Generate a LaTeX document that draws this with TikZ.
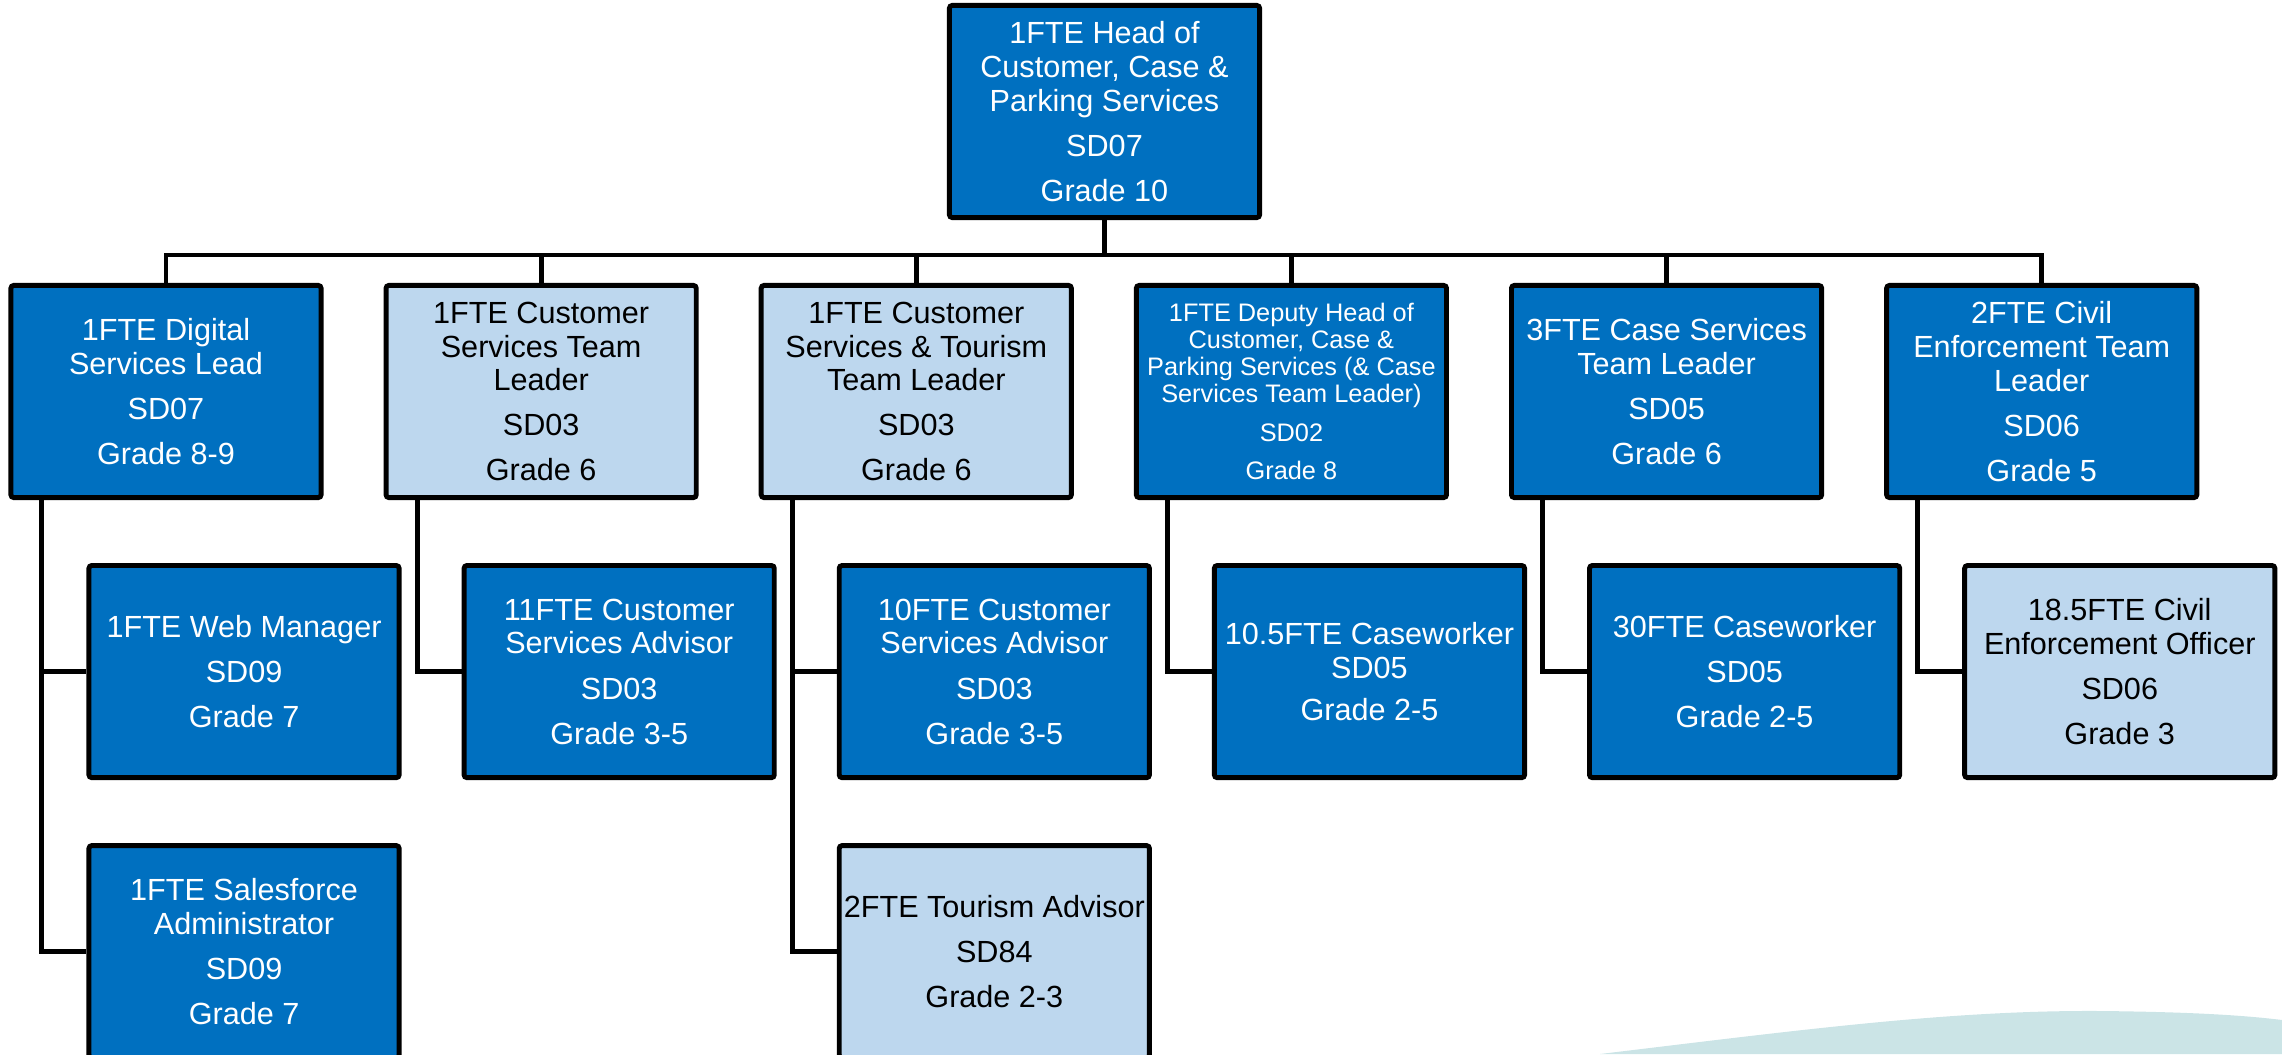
\documentclass[tikz,border=0pt]{standalone}
\usepackage{fontspec}
\setmainfont{Liberation Sans}
\usepackage{xcolor}
\usepackage{tikz}
\usetikzlibrary{positioning}

\definecolor{roledark}{HTML}{0070C0}
\definecolor{rolelight}{HTML}{BDD7EE}
\definecolor{swoosh}{HTML}{CBE4E6}

\tikzset{
  role/.style={draw=black, line width=1.4pt, rounded corners=0.8pt, rectangle,
    minimum width=3.10cm, minimum height=2.12cm, inner sep=0pt, align=center,
    font=\fontsize{8.7}{9.6}\selectfont},
  dark/.style={role, fill=roledark, text=white},
  light/.style={role, fill=rolelight, text=black},
  small/.style={font=\fontsize{7.2}{7.7}\selectfont},
  link/.style={line width=1.4pt},
}
\newcommand{\gp}{\\[3.2pt]}

\begin{document}
\begin{tikzpicture}[x=0.01cm, y=-0.01cm]
  \path[use as bounding box, clip] (0,0) rectangle (2282,1054);
  \fill[swoosh] (1600,1054) .. controls (1800,1030) and (1950,1010) .. (2100,1011)
    .. controls (2200,1012) and (2250,1016) .. (2282,1020) -- (2282,1054) -- cycle;

  \node[dark]                          (head)      at (1104.5,111.5) {1FTE Head of\\Customer, Case \&\\Parking Services\gp SD07\gp Grade 10};
  \node[dark]                          (digital)   at (166,391.5)    {1FTE Digital\\Services Lead\gp SD07\gp Grade 8-9};
  \node[light, right=0.6cm of digital] (cslead)    {1FTE Customer\\Services Team\\Leader\gp SD03\gp Grade 6};
  \node[light, right=0.6cm of cslead]  (tourlead)  {1FTE Customer\\Services \& Tourism\\Team Leader\gp SD03\gp Grade 6};
  \node[dark, small, right=0.6cm of tourlead] (deputy) {1FTE Deputy Head of\\Customer, Case \&\\Parking Services (\& Case\\Services Team Leader)\gp SD02\gp Grade 8};
  \node[dark, right=0.6cm of deputy]   (caselead)  {3FTE Case Services\\Team Leader\gp SD05\gp Grade 6};
  \node[dark, right=0.6cm of caselead] (civillead) {2FTE Civil\\Enforcement Team\\Leader\gp SD06\gp Grade 5};

  \node[dark, below=0.63cm of digital, xshift=0.78cm]    (webmgr)  {1FTE Web Manager\gp SD09\gp Grade 7};
  \node[dark, below=0.63cm of webmgr]                    (sfadmin) {1FTE Salesforce\\Administrator\gp SD09\gp Grade 7};
  \node[dark, below=0.63cm of cslead, xshift=0.78cm]     (csadv)   {11FTE Customer\\Services Advisor\gp SD03\gp Grade 3-5};
  \node[dark, below=0.63cm of tourlead, xshift=0.78cm]   (tadv)    {10FTE Customer\\Services Advisor\gp SD03\gp Grade 3-5};
  \node[light, below=0.63cm of tadv]                     (touradv) {2FTE Tourism Advisor\gp SD84\gp Grade 2-3};
  \node[dark, below=0.63cm of deputy, xshift=0.78cm]     (casewk)  {10.5FTE Caseworker\\SD05\\[2.4pt]Grade 2-5};
  \node[dark, below=0.63cm of caselead, xshift=0.78cm]   (casewkb) {30FTE Caseworker\gp SD05\gp Grade 2-5};
  \node[light, below=0.63cm of civillead, xshift=0.78cm] (ceo)     {18.5FTE Civil\\Enforcement Officer\gp SD06\gp Grade 3};

  \coordinate (bus) at (0,255);
  \draw[link] (head.south) -- (head.south |- bus);
  \draw[link] (digital.north) -- (digital.north |- bus) -- (civillead.north |- bus) -- (civillead.north);
  \foreach \n in {cslead, tourlead, deputy, caselead}
    \draw[link] (\n.north) -- (\n.north |- bus);

  \draw[link] ([xshift=-1.24cm]digital.south) |- (sfadmin.west);
  \draw[link] ([xshift=-1.24cm]digital.south) |- (webmgr.west);
  \draw[link] ([xshift=-1.24cm]cslead.south) |- (csadv.west);
  \draw[link] ([xshift=-1.24cm]tourlead.south) |- (touradv.west);
  \draw[link] ([xshift=-1.24cm]tourlead.south) |- (tadv.west);
  \draw[link] ([xshift=-1.24cm]deputy.south) |- (casewk.west);
  \draw[link] ([xshift=-1.24cm]caselead.south) |- (casewkb.west);
  \draw[link] ([xshift=-1.24cm]civillead.south) |- (ceo.west);
\end{tikzpicture}
\end{document}
